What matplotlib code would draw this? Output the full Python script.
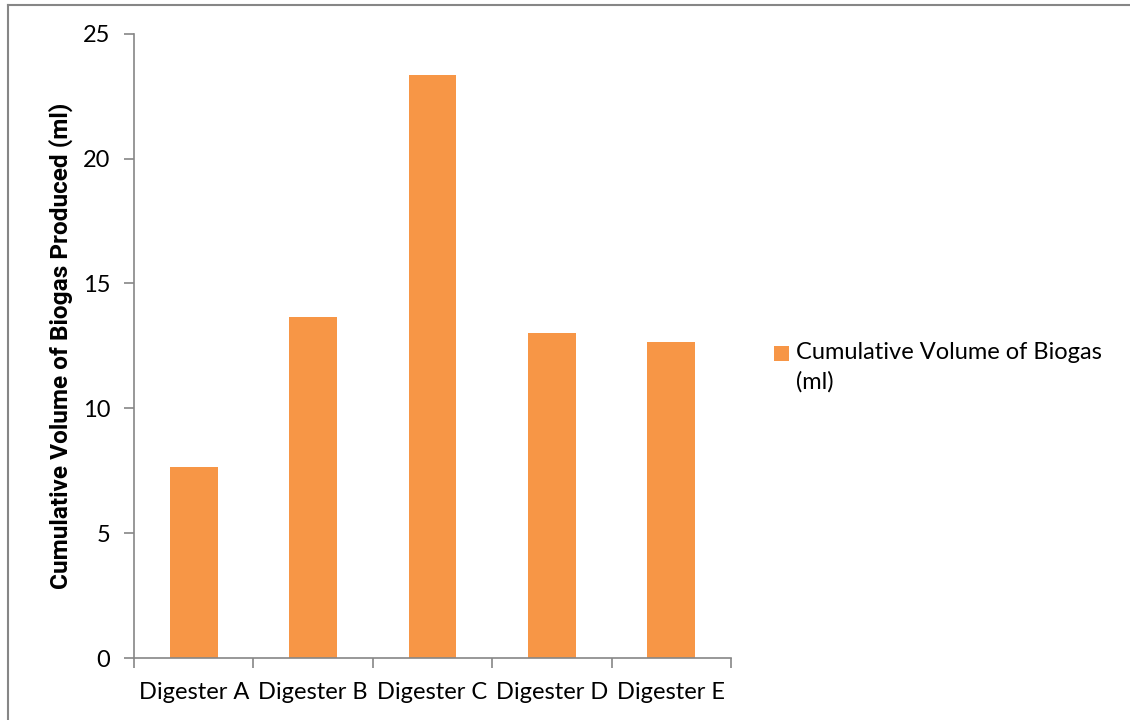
import matplotlib
matplotlib.use("Agg")
import matplotlib.pyplot as plt
from matplotlib.lines import Line2D
from matplotlib.patches import Rectangle
from matplotlib.legend_handler import HandlerPatch
from matplotlib.container import BarContainer
import numpy as np

plt.rcParams['font.family'] = ['Lato', 'DejaVu Sans']

digesters = ["Digester A", "Digester B", "Digester C", "Digester D", "Digester E"]
biogas_volume = [7.65, 13.65, 23.35, 13.0, 12.65]
y_ticks = [0, 5, 10, 15, 20, 25]
series_name = "Cumulative Volume of Biogas\n(ml)"
y_title = "Cumulative Volume of Biogas Produced (ml)"

bar_color = "#F79646"
axis_color = "#868686"
label_size = 17
legend_linespacing = 1.45

fig = plt.figure(figsize=(11.3, 7.2), dpi=100)
ax = fig.add_axes([0.1186, 0.0861, 0.5283, 0.8671])

x = np.arange(len(digesters))
bars = ax.bar(x, biogas_volume, width=0.4, color=bar_color, label=series_name, zorder=2)

ax.set_xlim(-0.5, len(digesters) - 0.5)
ax.set_ylim(0, 25)
ax.set_yticks(y_ticks)
ax.set_yticklabels([str(t) for t in y_ticks], fontsize=label_size)

# category labels centred under bars, tick marks on the category boundaries
ax.set_xticks(x)
ax.set_xticklabels(digesters, fontsize=label_size)
ax.tick_params(axis='x', which='major', length=0, pad=17)
ax.set_xticks(np.arange(-0.5, len(digesters)), minor=True)
ax.tick_params(axis='x', which='minor', length=7, width=1.2, color=axis_color, direction='out')
ax.tick_params(axis='y', length=7, width=1.2, color=axis_color, direction='out', pad=10)

for side in ("top", "right"):
    ax.spines[side].set_visible(False)
for side in ("left", "bottom"):
    ax.spines[side].set_color(axis_color)
    ax.spines[side].set_linewidth(1.2)

ax.set_ylabel(y_title, fontsize=17.6, fontweight='bold', family=['Roboto', 'DejaVu Sans'],
              labelpad=7)


# legend key: a small square level with the first line of the label
def top_square(legend, orig_handle, xdescent, ydescent, width, height, fontsize):
    return Rectangle((-xdescent, 0.635 * fontsize), width, width)


def first_bar_style(legend_handle, orig_handle):
    legend_handle.update_from(orig_handle[0])


leg = fig.legend(handles=[bars], labels=[series_name], loc='upper left',
                 bbox_to_anchor=(0.666, 0.554), frameon=False, fontsize=label_size,
                 handlelength=0.63, handleheight=0.7, handletextpad=0.3,
                 handler_map={BarContainer: HandlerPatch(patch_func=top_square,
                                                         update_func=first_bar_style)})
for t in leg.get_texts():
    t.set_linespacing(legend_linespacing)

# outer chart frame (left and top edges)
fig.add_artist(Line2D([0.0075, 0.0075], [0, 0.9935], transform=fig.transFigure,
                      color=axis_color, linewidth=1.5))
fig.add_artist(Line2D([0.0075, 1.0], [0.9935, 0.9935], transform=fig.transFigure,
                      color=axis_color, linewidth=1.5))

fig.savefig("out.png", dpi=100)
